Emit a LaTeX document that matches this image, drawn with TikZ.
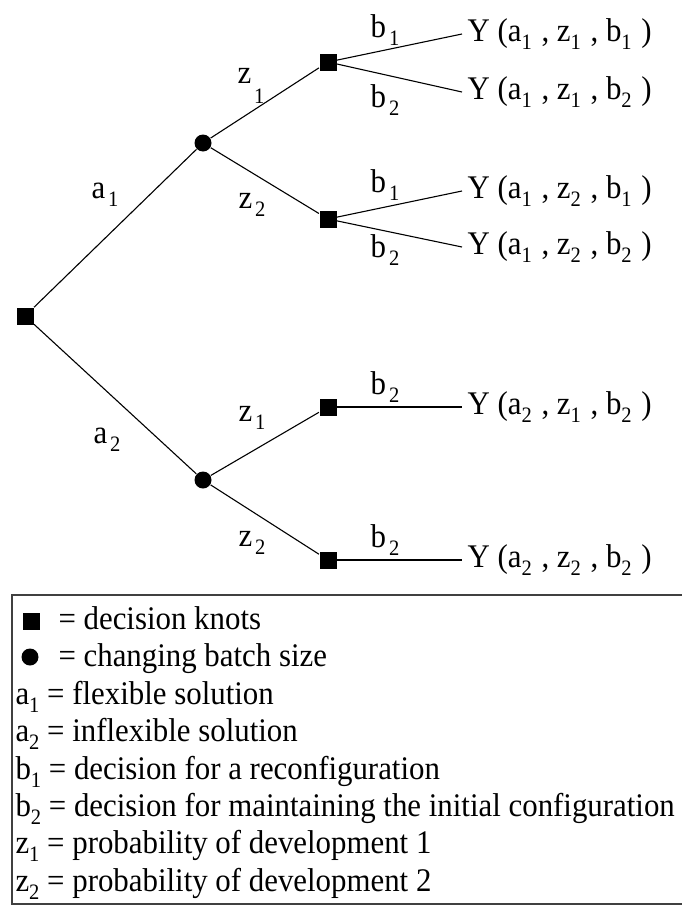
\documentclass[tikz,border=0pt]{standalone}
\usepackage{fontspec}
\setmainfont[FakeStretch=0.935]{Liberation Serif}
\newcommand{\bigfont}{\fontsize{33}{38}\selectfont}
\newcommand{\subdigit}[1]{\raisebox{-0.25em}{\fontsize{22}{22}\selectfont #1}}
\newcommand{\gapsub}[1]{\hspace{3pt}\subdigit{#1}}
\newcommand{\outsub}[1]{\subdigit{#1}\hspace{2pt}}
\tikzset{every picture/.style={line width=1.1pt}}

\begin{document}
\begin{tikzpicture}[x=1pt, y=-1pt,
    decision/.style={rectangle, fill=black, minimum size=17pt, inner sep=0pt},
    chance/.style={circle, fill=black, minimum size=17pt, inner sep=0pt},
    lbl/.style={font=\bigfont, inner sep=0pt},
    outcome/.style={font=\bigfont, anchor=west, inner sep=5pt}]
    \useasboundingbox (0,0) rectangle (681,905);

    % Knoten
    \node[decision] (root) at (25,316) {};
    \node[chance] (c1) at (203,143) {};
    \node[chance] (c2) at (203,480) {};
    \node[decision] (s11) at (328,62) {};
    \node[decision] (s12) at (328,219) {};
    \node[decision] (s21) at (328,407) {};
    \node[decision] (s22) at (328,560) {};

    % Ergebnisse
    \node[outcome] (y1) at (462,34) {Y (a\outsub{1} , z\outsub{1} , b\outsub{1} )};
    \node[outcome] (y2) at (462,92) {Y (a\outsub{1} , z\outsub{1} , b\outsub{2} )};
    \node[outcome] (y3) at (462,191) {Y (a\outsub{1} , z\outsub{2} , b\outsub{1} )};
    \node[outcome] (y4) at (462,247) {Y (a\outsub{1} , z\outsub{2} , b\outsub{2} )};
    \node[outcome] (y5) at (462,407) {Y (a\outsub{2} , z\outsub{1} , b\outsub{2} )};
    \node[outcome] (y6) at (462,560) {Y (a\outsub{2} , z\outsub{2} , b\outsub{2} )};

    % Zweige
    \draw (root) -- (c1);
    \draw (root) -- (c2);
    \draw (c1) -- (s11);
    \draw (c1) -- (s12);
    \draw (c2) -- (s21);
    \draw (c2) -- (s22);
    \draw (s11) -- (y1.west);
    \draw (s11) -- (y2.west);
    \draw (s12) -- (y3.west);
    \draw (s12) -- (y4.west);
    \draw (s21) -- (y5.west);
    \draw (s22) -- (y6.west);

    % Beschriftung der Zweige
    \node[lbl] (la1) at (105,195) {a\gapsub{1}};
    \node[lbl] (la2) at (107,440) {a\gapsub{2}};
    \node[lbl, anchor=base west] (lz11) at (237,83) {z\hspace{3pt}\raisebox{-20pt}{\fontsize{22}{22}\selectfont 1}};
    \node[lbl] (lz12) at (252,205) {z\gapsub{2}};
    \node[lbl] (lz21) at (252,418) {z\gapsub{1}};
    \node[lbl] (lz22) at (252,543) {z\gapsub{2}};
    \node[lbl] (lb111) at (385,30) {b\gapsub{1}};
    \node[lbl] (lb112) at (385,100) {b\gapsub{2}};
    \node[lbl] (lb121) at (385,185) {b\gapsub{1}};
    \node[lbl] (lb122) at (385,250) {b\gapsub{2}};
    \node[lbl] (lb21) at (385,387) {b\gapsub{2}};
    \node[lbl] (lb22) at (385,540) {b\gapsub{2}};

    % Legende
    \draw[line width=1.5pt, black!75] (12,595) rectangle (700,904);
    \node[decision] (keysq) at (31,621) {};
    \node[chance] (keyci) at (30,657) {};
    \node[lbl, anchor=base west] (k1) at (58,629) {= decision knots};
    \node[lbl, anchor=base west] (k2) at (58,666) {= changing batch size};
    \node[lbl, anchor=base west] (k3) at (15,704) {a\subdigit{1} = flexible solution};
    \node[lbl, anchor=base west] (k4) at (15,741) {a\subdigit{2} = inflexible solution};
    \node[lbl, anchor=base west] (k5) at (15,779) {b\subdigit{1} = decision for a reconfiguration};
    \node[lbl, anchor=base west] (k6) at (15,816) {b\subdigit{2} = decision for maintaining the initial configuration};
    \node[lbl, anchor=base west] (k7) at (15,853) {z\subdigit{1} = probability of development 1};
    \node[lbl, anchor=base west] (k8) at (15,891) {z\subdigit{2} = probability of development 2};
\end{tikzpicture}
\end{document}
